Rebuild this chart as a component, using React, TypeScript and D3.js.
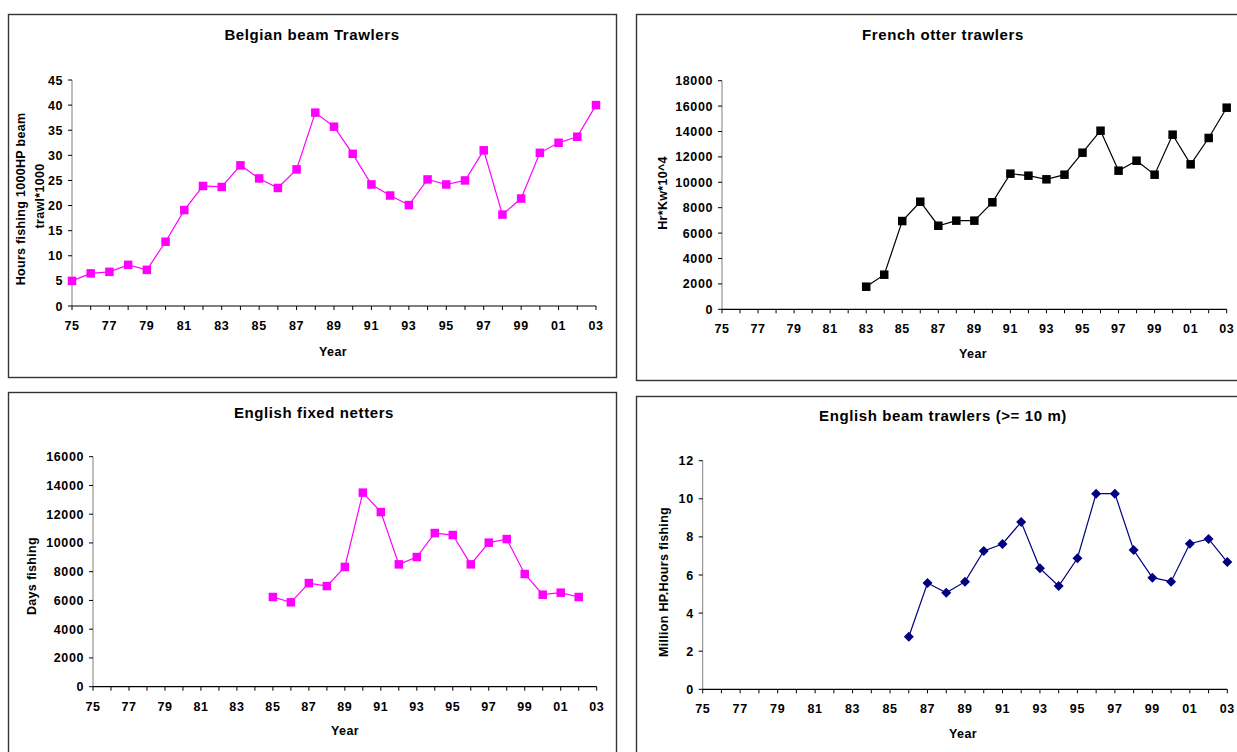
import React from "react";
import * as d3 from "d3";

// Fishing effort series, one pair of arrays per fleet
const belgianYears = [1975, 1976, 1977, 1978, 1979, 1980, 1981, 1982, 1983, 1984, 1985, 1986, 1987, 1988, 1989, 1990, 1991, 1992, 1993, 1994, 1995, 1996, 1997, 1998, 1999, 2000, 2001, 2002, 2003];
const belgianHours = [5.0, 6.5, 6.8, 8.2, 7.2, 12.8, 19.1, 23.9, 23.7, 28.0, 25.4, 23.5, 27.2, 38.5, 35.7, 30.3, 24.2, 22.0, 20.1, 25.2, 24.2, 25.0, 31.0, 18.2, 21.4, 30.5, 32.5, 33.7, 40.0];

const frenchYears = [1983, 1984, 1985, 1986, 1987, 1988, 1989, 1990, 1991, 1992, 1993, 1994, 1995, 1996, 1997, 1998, 1999, 2000, 2001, 2002, 2003];
const frenchHrKw = [1780, 2725, 6950, 8470, 6580, 6980, 6980, 8425, 10680, 10520, 10235, 10600, 12330, 14060, 10915, 11700, 10600, 13750, 11415, 13490, 15875];

const netterYears = [1985, 1986, 1987, 1988, 1989, 1990, 1991, 1992, 1993, 1994, 1995, 1996, 1997, 1998, 1999, 2000, 2001, 2002];
const netterDays = [6240, 5870, 7210, 7000, 8330, 13500, 12150, 8510, 9020, 10690, 10550, 8510, 10020, 10270, 7840, 6400, 6540, 6240];

const engBeamYears = [1986, 1987, 1988, 1989, 1990, 1991, 1992, 1993, 1994, 1995, 1996, 1997, 1998, 1999, 2000, 2001, 2002, 2003];
const engBeamHpHours = [2.76, 5.58, 5.07, 5.65, 7.26, 7.63, 8.78, 6.35, 5.42, 6.88, 10.27, 10.27, 7.31, 5.86, 5.65, 7.64, 7.89, 6.68];

const yearTicks = [1975, 1976, 1977, 1978, 1979, 1980, 1981, 1982, 1983, 1984, 1985, 1986, 1987, 1988, 1989, 1990, 1991, 1992, 1993, 1994, 1995, 1996, 1997, 1998, 1999, 2000, 2001, 2002, 2003];
const yearLabels = [1975, 1977, 1979, 1981, 1983, 1985, 1987, 1989, 1991, 1993, 1995, 1997, 1999, 2001, 2003];

const belgianTicks = [0, 5, 10, 15, 20, 25, 30, 35, 40, 45];
const frenchTicks = [0, 2000, 4000, 6000, 8000, 10000, 12000, 14000, 16000, 18000];
const netterTicks = [0, 2000, 4000, 6000, 8000, 10000, 12000, 14000, 16000];
const engBeamTicks = [0, 2, 4, 6, 8, 10, 12];

const FONT = "'Liberation Sans', Arial, Helvetica, sans-serif";

type Box = { x: number; y: number; w: number; h: number };
type Plot = { left: number; right: number; top: number; bottom: number };

type PanelProps = {
  frame: Box;
  plot: Plot;
  title: string;
  titlePos: [number, number];
  yTitle: { text: string; x: number; y: number }[];
  yearPos: [number, number];
  ticks: number[];
  years: number[];
  values: number[];
  color: string;
  marker: "square" | "diamond";
};

function Panel(p: PanelProps) {
  const x = d3.scaleLinear().domain([1975, 2003]).range([p.plot.left, p.plot.right]);
  const y = d3
    .scaleLinear()
    .domain([0, p.ticks[p.ticks.length - 1]])
    .range([p.plot.bottom, p.plot.top]);
  const pts = p.years.map((yr, i) => [x(yr), y(p.values[i])] as [number, number]);
  const path = d3.line()(pts) || "";
  const sq = 8.5;
  const dm = 5;

  return (
    <g>
      <rect
        x={p.frame.x}
        y={p.frame.y}
        width={p.frame.w}
        height={p.frame.h}
        fill="#fff"
        stroke="#333"
        strokeWidth={1.4}
      />
      <text
        x={p.titlePos[0]}
        y={p.titlePos[1]}
        textAnchor="middle"
        fontFamily={FONT}
        fontWeight="bold"
        fontSize={15}
        letterSpacing={0.6}
        fill="#000"
      >
        {p.title}
      </text>
      {p.yTitle.map((t, i) => (
        <text
          key={i}
          transform={`translate(${t.x},${t.y}) rotate(-90)`}
          textAnchor="middle"
          dominantBaseline="central"
          fontFamily={FONT}
          fontWeight="bold"
          fontSize={12.5}
          letterSpacing={0.3}
          fill="#000"
        >
          {t.text}
        </text>
      ))}
      {/* y axis */}
      <line x1={p.plot.left} x2={p.plot.left} y1={p.plot.top} y2={p.plot.bottom} stroke="#808080" strokeWidth={1} />
      {p.ticks.map((t) => (
        <g key={t}>
          <line x1={p.plot.left - 4} x2={p.plot.left} y1={y(t)} y2={y(t)} stroke="#000" strokeWidth={1} />
          <text
            x={p.plot.left - 9}
            y={y(t) + 4.5}
            textAnchor="end"
            fontFamily={FONT}
            fontWeight="bold"
            fontSize={12.5}
            letterSpacing={0.6}
            fill="#000"
          >
            {t}
          </text>
        </g>
      ))}
      {/* x axis */}
      <line x1={p.plot.left} x2={p.plot.right} y1={p.plot.bottom} y2={p.plot.bottom} stroke="#000" strokeWidth={1.2} />
      {yearTicks.map((t) => (
        <line key={t} x1={x(t)} x2={x(t)} y1={p.plot.bottom} y2={p.plot.bottom + 4} stroke="#000" strokeWidth={1} />
      ))}
      {yearLabels.map((t) => (
        <text
          key={t}
          x={x(t)}
          y={p.plot.bottom + 24}
          textAnchor="middle"
          fontFamily={FONT}
          fontWeight="bold"
          fontSize={12.5}
          letterSpacing={0.6}
          fill="#000"
        >
          {String(t % 100).padStart(2, "0")}
        </text>
      ))}
      <text
        x={p.yearPos[0]}
        y={p.yearPos[1]}
        textAnchor="middle"
        fontFamily={FONT}
        fontWeight="bold"
        fontSize={12.5}
        letterSpacing={0.4}
        fill="#000"
      >
        Year
      </text>
      <path d={path} fill="none" stroke={p.color} strokeWidth={1.2} />
      {pts.map(([px, py], i) =>
        p.marker === "square" ? (
          <rect key={i} x={px - sq / 2} y={py - sq / 2} width={sq} height={sq} fill={p.color} />
        ) : (
          <path
            key={i}
            d={`M${px},${py - dm}L${px + dm},${py}L${px},${py + dm}L${px - dm},${py}Z`}
            fill={p.color}
          />
        )
      )}
    </g>
  );
}

export default function App() {
  return (
    <svg
      width={1237}
      height={752}
      style={{ position: "absolute", left: 0, top: 0, background: "#fff" }}
    >
      <rect x={0} y={0} width={1237} height={752} fill="#fff" />
      <Panel
        frame={{ x: 8.5, y: 14.5, w: 608, h: 363 }}
        plot={{ left: 72, right: 596, top: 80, bottom: 306 }}
        title="Belgian beam Trawlers"
        titlePos={[312, 40]}
        yTitle={[
          { text: "Hours fishing 1000HP beam", x: 21, y: 199 },
          { text: "trawl*1000", x: 40, y: 196 },
        ]}
        yearPos={[333, 356]}
        ticks={belgianTicks}
        years={belgianYears}
        values={belgianHours}
        color="#ff00ff"
        marker="square"
      />
      <Panel
        frame={{ x: 636.5, y: 14.5, w: 640, h: 366 }}
        plot={{ left: 722, right: 1226.7, top: 80.7, bottom: 309.3 }}
        title="French otter trawlers"
        titlePos={[943, 40]}
        yTitle={[{ text: "Hr*Kw*10^4", x: 663, y: 193 }]}
        yearPos={[973, 358]}
        ticks={frenchTicks}
        years={frenchYears}
        values={frenchHrKw}
        color="#000000"
        marker="square"
      />
      <Panel
        frame={{ x: 8.5, y: 392.5, w: 608, h: 400 }}
        plot={{ left: 93, right: 596.7, top: 456.7, bottom: 686.7 }}
        title="English fixed netters"
        titlePos={[314, 418]}
        yTitle={[{ text: "Days fishing", x: 32, y: 576 }]}
        yearPos={[345, 735]}
        ticks={netterTicks}
        years={netterYears}
        values={netterDays}
        color="#ff00ff"
        marker="square"
      />
      <Panel
        frame={{ x: 636.5, y: 396.5, w: 640, h: 400 }}
        plot={{ left: 702.7, right: 1227.3, top: 460.7, bottom: 689.3 }}
        title="English beam trawlers (>= 10 m)"
        titlePos={[943, 421]}
        yTitle={[{ text: "Million HP.Hours fishing", x: 664, y: 582 }]}
        yearPos={[963, 738]}
        ticks={engBeamTicks}
        years={engBeamYears}
        values={engBeamHpHours}
        color="#000080"
        marker="diamond"
      />
    </svg>
  );
}
